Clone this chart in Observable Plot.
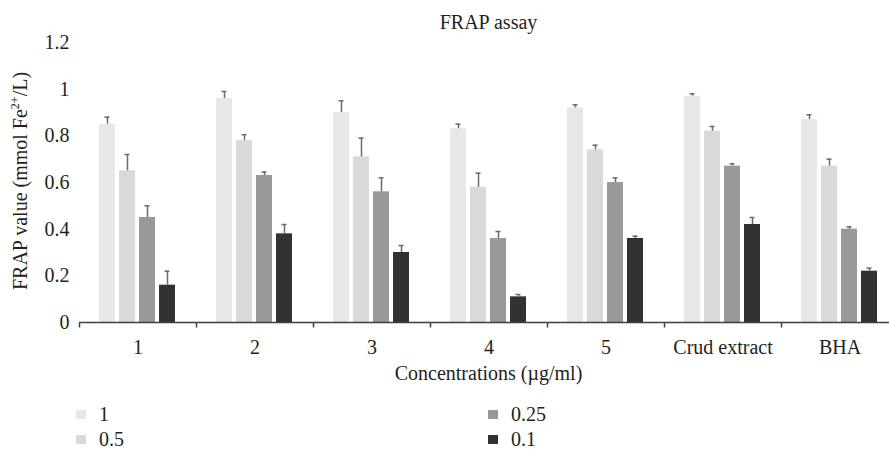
<!DOCTYPE html>
<html>
<head>
<meta charset="utf-8">
<script src="https://cdn.jsdelivr.net/npm/d3@7"></script>
<script src="https://cdn.jsdelivr.net/npm/@observablehq/plot@0.6"></script>
<style>
  html, body { margin: 0; padding: 0; background: #fff; }
  #wrap { position: relative; width: 889px; height: 451px; overflow: hidden; font-family: 'Liberation Serif', 'DejaVu Serif', serif; color: #231f20; }
  #title { position: absolute; left: 0; width: 977px; top: 12px; text-align: center; font-size: 20px; line-height: 20px; }
  #chart { position: absolute; left: 0; top: 30px; }
  #chart svg, #chart svg text { font-family: 'Liberation Serif', serif !important; }
  #ytitle { position: absolute; left: 20px; top: 181px; transform: translate(-50%, -50%) rotate(-90deg); white-space: nowrap; font-size: 20px; line-height: 20px; }
  #ytitle sup { font-size: 12px; vertical-align: 8px; line-height: 0; }
  #xtitle { position: absolute; left: 0; width: 977px; top: 364px; text-align: center; font-size: 20px; line-height: 18px; }
  .leg { position: absolute; font-size: 20px; line-height: 16px; display: flex; align-items: center; }
  .leg .sw { width: 10px; height: 9px; margin-right: 13px; }
</style>
</head>
<body>
<div id="wrap">
  <div id="title"></div>
  <div id="chart"></div>
  <div id="ytitle">FRAP value (mmol Fe<sup>2+</sup>/L)</div>
  <div id="xtitle"></div>
  <div id="legend"></div>
</div>
<script>
const titleText = "FRAP assay";
const xTitle = "Concentrations (µg/ml)";
const categories = ["1", "2", "3", "4", "5", "Crud extract", "BHA"];
const series = ["1", "0.5", "0.25", "0.1"];
const colors = ["#e6e7e6", "#d9d9d8", "#999999", "#313332"];

const values1   = [0.85, 0.96, 0.90, 0.83, 0.92, 0.97, 0.87];
const values05  = [0.65, 0.78, 0.71, 0.58, 0.74, 0.82, 0.67];
const values025 = [0.45, 0.63, 0.56, 0.36, 0.60, 0.67, 0.40];
const values01  = [0.16, 0.38, 0.30, 0.11, 0.36, 0.42, 0.22];

const err1   = [0.03, 0.03, 0.05, 0.02, 0.013, 0.01, 0.02];
const err05  = [0.07, 0.025, 0.08, 0.06, 0.02, 0.02, 0.03];
const err025 = [0.05, 0.015, 0.06, 0.03, 0.02, 0.01, 0.01];
const err01  = [0.06, 0.04, 0.03, 0.01, 0.01, 0.03, 0.013];

const yTicks = [0, 0.2, 0.4, 0.6, 0.8, 1, 1.2];
const yTickLabels = ["0", "0.2", "0.4", "0.6", "0.8", "1", "1.2"];

const allValues = [values1, values05, values025, values01];
const allErrors = [err1, err05, err025, err01];
const data = [];
categories.forEach((cat, ci) => {
  series.forEach((s, si) => {
    data.push({cat, series: s, value: allValues[si][ci], err: allErrors[si][ci]});
  });
});

document.getElementById("title").textContent = titleText;
document.getElementById("xtitle").textContent = xTitle;

const tickSymbol = {
  draw(context, size) {
    context.moveTo(0, 0);
    context.lineTo(0, 5);
  }
};

const chart = Plot.plot({
  width: 889,
  height: 328,
  marginLeft: 76,
  marginRight: -12,
  marginTop: 12,
  marginBottom: 36,
  style: {fontFamily: "'Liberation Serif', serif", fontSize: "20px", color: "#231f20", background: "transparent", overflow: "visible"},
  fx: {domain: categories, padding: 0, label: null, tickSize: 0, tickPadding: 17, axis: "bottom"},
  x: {domain: series, paddingInner: 0.19, paddingOuter: 0.905, axis: null},
  y: {domain: [0, 1.2], ticks: yTicks, tickFormat: d => yTickLabels[yTicks.findIndex(t => Math.abs(t - d) < 1e-9)], tickSize: 0, tickPadding: 10, label: null},
  color: {domain: series, range: colors},
  marks: [
    Plot.barY(data, {fx: "cat", x: "series", y: "value", fill: "series"}),
    Plot.ruleX(data, {fx: "cat", x: "series", y1: "value", y2: d => d.value + d.err, stroke: "#6a6a6a", strokeWidth: 1.5}),
    Plot.tickY(data, {fx: "cat", x: "series", y: d => d.value + d.err, stroke: "#6a6a6a", strokeWidth: 1.5, insetLeft: 5.5, insetRight: 5.5}),
    Plot.ruleY([0], {stroke: "#3f3f3f", strokeWidth: 1.6}),
    Plot.dot(categories, {fx: d => d, frameAnchor: "bottom-left", symbol: tickSymbol, stroke: "#3f3f3f", strokeWidth: 1.5, fill: "none"})
  ]
});
document.getElementById("chart").appendChild(chart);

const legendPos = [
  {left: 76, top: 406},
  {left: 76, top: 431},
  {left: 488, top: 406},
  {left: 488, top: 431}
];
const legend = document.getElementById("legend");
series.forEach((s, i) => {
  const item = document.createElement("div");
  item.className = "leg";
  item.style.left = legendPos[i].left + "px";
  item.style.top = legendPos[i].top + "px";
  const sw = document.createElement("span");
  sw.className = "sw";
  sw.style.background = colors[i];
  const t = document.createElement("span");
  t.textContent = s;
  item.appendChild(sw);
  item.appendChild(t);
  legend.appendChild(item);
});
</script>
</body>
</html>
